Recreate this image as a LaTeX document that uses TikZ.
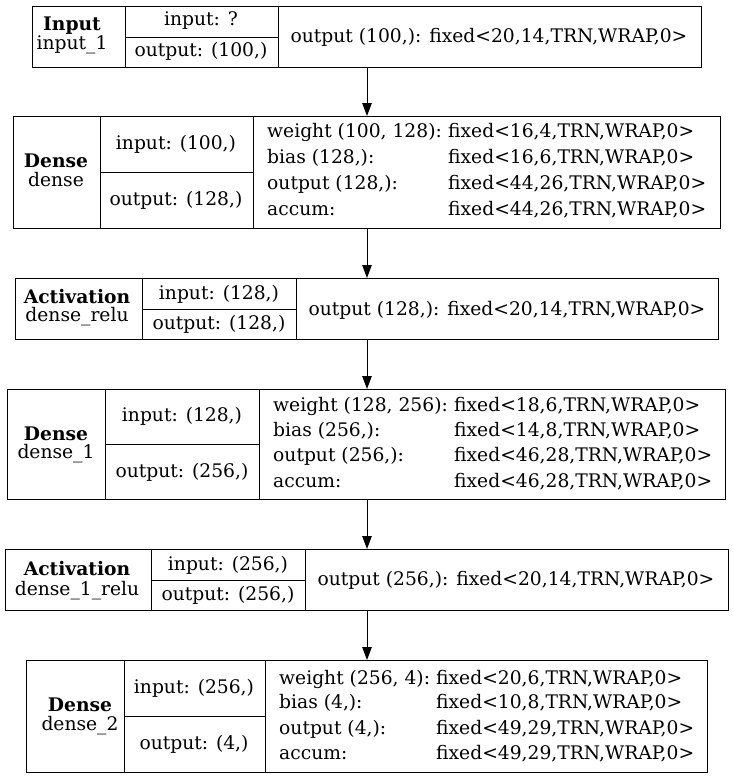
\documentclass[tikz,border=0pt]{standalone}
\usepackage{fontspec}
\setmainfont{DejaVu Serif}
\usetikzlibrary{arrows.meta}
\newcommand{\fsz}{\fontsize{18.7}{22}\selectfont}
\tikzset{
  box/.style={draw, line width=1pt, inner sep=0pt, anchor=north west},
  txt/.style={inner sep=0pt, font=\fsz, anchor=base},
  lt/.style={inner sep=0pt, font=\fsz, anchor=base west},
  arr/.style={-{Triangle[length=13pt,width=9.5pt]}, line width=1pt},
  sep/.style={line width=1pt},
}
\begin{document}
\begin{tikzpicture}[x=1pt,y=-1pt]
\useasboundingbox (0,0) rectangle (733,779);
% Box 1
\node[box, minimum width=669pt, minimum height=61pt] (b1) at (32,6) {};
\draw[sep] (125,6) -- (125,67) (278,6) -- (278,67) (125,37) -- (278,37);
\node[txt] (b1a) at (72,30) {\textbf{Input}};
\node[txt] (b1b) at (72,49) {input\_1};
\node[txt] (b1c) at (201,25) {input: ?};
\node[txt] (b1d) at (201,56) {output: (100,)};
\node[txt] (b1e) at (489,42) {output (100,): fixed<20,14,TRN,WRAP,0>};
% Box 2
\node[box, minimum width=707pt, minimum height=112pt] (b2) at (13,116) {};
\draw[sep] (100,116) -- (100,228) (253,116) -- (253,228) (100,172) -- (253,172);
\node[txt] (b2a) at (56,167) {\textbf{Dense}};
\node[txt] (b2b) at (56,186) {dense};
\node[txt] (b2c) at (176,149) {input: (100,)};
\node[txt] (b2d) at (176,205) {output: (128,)};
\node[lt] (b2e) at (267,137) {weight (100, 128):};
\node[lt] (b2f) at (448,137) {fixed<16,4,TRN,WRAP,0>};
\node[lt] (b2g) at (267,163) {bias (128,):};
\node[lt] (b2h) at (448,163) {fixed<16,6,TRN,WRAP,0>};
\node[lt] (b2i) at (267,189) {output (128,):};
\node[lt] (b2j) at (448,189) {fixed<44,26,TRN,WRAP,0>};
\node[lt] (b2k) at (267,215) {accum:};
\node[lt] (b2l) at (448,215) {fixed<44,26,TRN,WRAP,0>};
% Box 3
\node[box, minimum width=703pt, minimum height=61pt] (b3) at (15,278) {};
\draw[sep] (142,278) -- (142,339) (296,278) -- (296,339) (142,309) -- (296,309);
\node[txt] (b3a) at (77,303) {\textbf{Activation}};
\node[txt] (b3b) at (77,321) {dense\_relu};
\node[txt] (b3c) at (219,299) {input: (128,)};
\node[txt] (b3d) at (219,329) {output: (128,)};
\node[txt] (b3e) at (507,315) {output (128,): fixed<20,14,TRN,WRAP,0>};
% Box 4
\node[box, minimum width=718pt, minimum height=110pt] (b4) at (7,389) {};
\draw[sep] (105,389) -- (105,499) (259,389) -- (259,499) (105,444) -- (259,444);
\node[txt] (b4a) at (56,440) {\textbf{Dense}};
\node[txt] (b4b) at (56,458) {dense\_1};
\node[txt] (b4c) at (182,421) {input: (128,)};
\node[txt] (b4d) at (182,477) {output: (256,)};
\node[lt] (b4e) at (273,411) {weight (128, 256):};
\node[lt] (b4f) at (454,411) {fixed<18,6,TRN,WRAP,0>};
\node[lt] (b4g) at (273,436) {bias (256,):};
\node[lt] (b4h) at (454,436) {fixed<14,8,TRN,WRAP,0>};
\node[lt] (b4i) at (273,461) {output (256,):};
\node[lt] (b4j) at (454,461) {fixed<46,28,TRN,WRAP,0>};
\node[lt] (b4k) at (273,487) {accum:};
\node[lt] (b4l) at (454,487) {fixed<46,28,TRN,WRAP,0>};
% Box 5
\node[box, minimum width=723pt, minimum height=61pt] (b5) at (5,549) {};
\draw[sep] (151,549) -- (151,610) (305,549) -- (305,610) (151,580) -- (305,580);
\node[txt] (b5a) at (77,575) {\textbf{Activation}};
\node[txt] (b5b) at (77,595) {dense\_1\_relu};
\node[txt] (b5c) at (228,570) {input: (256,)};
\node[txt] (b5d) at (228,600) {output: (256,)};
\node[txt] (b5e) at (516,585) {output (256,): fixed<20,14,TRN,WRAP,0>};
% Box 6
\node[box, minimum width=681pt, minimum height=112pt] (b6) at (26,660) {};
\draw[sep] (124,660) -- (124,772) (265,660) -- (265,772) (124,716) -- (265,716);
\node[txt] (b6a) at (80,711) {\textbf{Dense}};
\node[txt] (b6b) at (80,730) {dense\_2};
\node[txt] (b6c) at (194,693) {input: (256,)};
\node[txt] (b6d) at (194,749) {output: (4,)};
\node[lt] (b6e) at (279,684) {weight (256, 4):};
\node[lt] (b6f) at (436,684) {fixed<20,6,TRN,WRAP,0>};
\node[lt] (b6g) at (279,708) {bias (4,):};
\node[lt] (b6h) at (436,708) {fixed<10,8,TRN,WRAP,0>};
\node[lt] (b6i) at (279,734) {output (4,):};
\node[lt] (b6j) at (436,734) {fixed<49,29,TRN,WRAP,0>};
\node[lt] (b6k) at (279,759) {accum:};
\node[lt] (b6l) at (436,759) {fixed<49,29,TRN,WRAP,0>};
% arrows
\coordinate (x0) at (367,0);
\draw[arr] (b1.south -| x0) -- (b2.north -| x0);
\draw[arr] (b2.south -| x0) -- (b3.north -| x0);
\draw[arr] (b3.south -| x0) -- (b4.north -| x0);
\draw[arr] (b4.south -| x0) -- (b5.north -| x0);
\draw[arr] (b5.south -| x0) -- (b6.north -| x0);
\end{tikzpicture}
\end{document}
